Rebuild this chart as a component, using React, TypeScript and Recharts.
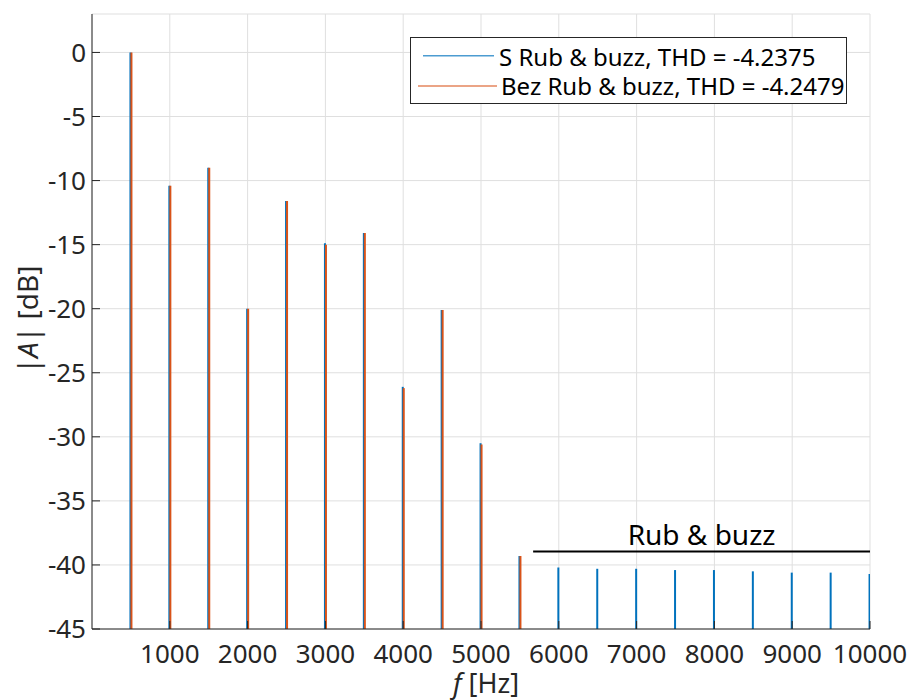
import React from 'react';
import { ComposedChart, Bar, XAxis, YAxis, CartesianGrid, ReferenceLine, Legend } from 'recharts';

// ---- data ----
const freqs = [500, 1000, 1500, 2000, 2500, 3000, 3500, 4000, 4500, 5000, 5500, 6000, 6500, 7000, 7500, 8000, 8500, 9000, 9500, 10000];
const sRubBuzz = [0, -10.4, -9.0, -20.0, -11.6, -14.9, -14.1, -26.1, -20.1, -30.5, -39.3, -40.2, -40.3, -40.3, -40.4, -40.4, -40.5, -40.6, -40.6, -40.7];
const bezRubBuzz = [0, -10.4, -9.0, -20.0, -11.6, -15.0, -14.1, -26.2, -20.1, -30.6, -39.3, null, null, null, null, null, null, null, null, null];
const seriesNames = ['S Rub & buzz, THD = -4.2375', 'Bez Rub & buzz, THD = -4.2479'];
const seriesColors = ['#0072BD', '#D95319'];
const xTicks = [1000, 2000, 3000, 4000, 5000, 6000, 7000, 8000, 9000, 10000];
const yTicks = [-45, -40, -35, -30, -25, -20, -15, -10, -5, 0];
const xDomain = [0, 10000];
const yDomain = [-45, 3];
const rubBuzzStart = 5670;
const rubBuzzEnd = 10000;
const rubBuzzLevel = -38.95;
const rubBuzzText = 'Rub & buzz';

const floorDb = yDomain[0];
const rows = freqs.map((f, i) => ({ f, s: sRubBuzz[i], bez: bezRubBuzz[i] }));

const FONT = '"Noto Sans", sans-serif';
const AX = '#262626';

const LegendBox = (props: any) => {
  const payload = [...(props.payload || [])].sort(
    (a: any, b: any) => seriesNames.indexOf(a.value) - seriesNames.indexOf(b.value)
  );
  return (
    <svg width={437} height={67} style={{ display: 'block' }}>
      <rect x={0.5} y={0.5} width={436} height={66} fill="#fff" stroke={AX} strokeWidth={1} />
      {payload.map((p: any, i: number) => (
        <g key={i}>
          <line x1={i === 0 ? 13 : 8} x2={i === 0 ? 84 : 87} y1={i === 0 ? 18.7 : 49} y2={i === 0 ? 18.7 : 49}
            stroke={p.color} strokeWidth={1.5} strokeOpacity={0.7} />
          <text x={i === 0 ? 89 : 91} y={i === 0 ? 29 : 58} fontSize={24} fontFamily={FONT} fill="#000">{p.value}</text>
        </g>
      ))}
    </svg>
  );
};

const yLabel = (props: any) => {
  const vb = props.viewBox || {};
  const cx = vb.x + 38;
  const cy = vb.y + vb.height / 2 - 2;
  return (
    <text x={cx} y={cy} transform={`rotate(-90, ${cx}, ${cy})`} textAnchor="middle" fontSize={28} fontFamily={FONT} fill={AX}>
      |<tspan fontStyle="italic">A</tspan>| [dB]
    </text>
  );
};

const xLabel = (props: any) => {
  const vb = props.viewBox || {};
  const cx = vb.x + vb.width / 2 + 5;
  const cy = vb.y + 64;
  return (
    <text x={cx} y={cy} textAnchor="middle" fontSize={27} fontFamily={FONT} fill={AX}>
      <tspan fontStyle="italic">f</tspan> [Hz]
    </text>
  );
};

const emptyTick = () => <g />;

export default function App() {
  return (
    <div style={{ position: 'absolute', left: 0, top: 0, width: 913, height: 700, background: '#fff' }}>
      <ComposedChart width={913} height={700} data={rows} margin={{ top: 14, right: 43, left: 0, bottom: 0 }} barGap={-1}>
        <CartesianGrid stroke="#dfdfdf" strokeWidth={1} />
        <XAxis dataKey="f" type="number" domain={xDomain} ticks={xTicks} allowDataOverflow
          height={71} tickSize={-8} tickMargin={24} stroke={AX}
          axisLine={{ stroke: AX, strokeWidth: 1 }} tickLine={{ stroke: AX }}
          tick={{ fontSize: 26, fontFamily: FONT, fill: AX }} label={xLabel} />
        <XAxis xAxisId="top" orientation="top" dataKey="f" type="number" domain={xDomain} ticks={xTicks} allowDataOverflow
          height={0} tickSize={-8} axisLine={{ stroke: AX, strokeWidth: 1 }} tickLine={{ stroke: AX }} tick={emptyTick} />
        <YAxis type="number" domain={yDomain} ticks={yTicks} allowDataOverflow width={92}
          tickSize={-8} tickMargin={14} axisLine={{ stroke: AX, strokeWidth: 1 }} tickLine={{ stroke: AX }}
          tick={{ fontSize: 26, fontFamily: FONT, fill: AX }} label={yLabel} />
        <YAxis yAxisId="right" orientation="right" type="number" domain={yDomain} ticks={yTicks} allowDataOverflow width={0}
          tickSize={-8} axisLine={{ stroke: AX, strokeWidth: 1 }} tickLine={{ stroke: AX }} tick={emptyTick} />
        <Bar name={seriesNames[0]} dataKey={(d: any) => (d.s == null ? null : [floorDb, d.s])} fill={seriesColors[0]}
          barSize={2} isAnimationActive={false} legendType="line" />
        <Bar name={seriesNames[1]} dataKey={(d: any) => (d.bez == null ? null : [floorDb, d.bez])} fill={seriesColors[1]}
          barSize={2} isAnimationActive={false} legendType="line" />
        <ReferenceLine segment={[{ x: rubBuzzStart, y: rubBuzzLevel }, { x: rubBuzzEnd, y: rubBuzzLevel }]}
          stroke="#000" strokeWidth={2}
          label={{ value: rubBuzzText, position: 'top', offset: 6, fontSize: 28, fontFamily: FONT, fill: '#000' }} />
        <Legend layout="vertical" align="center" verticalAlign="middle" content={LegendBox}
          wrapperStyle={{ position: 'absolute', left: 410, top: 37, width: 437, height: 67 }} />
      </ComposedChart>
    </div>
  );
}
